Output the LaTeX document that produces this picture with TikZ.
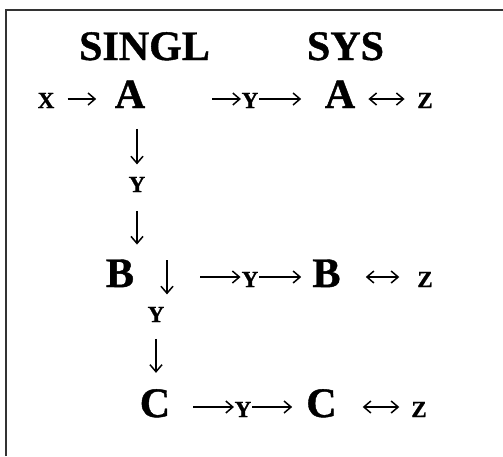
\documentclass[tikz,border=0pt]{standalone}
\usepackage{fontspec}
\setmainfont{Liberation Serif}[BoldFeatures = {FakeBold = 1}]
\usetikzlibrary{arrows.meta}

\tikzset{
	big/.style = {font = \fontsize{42}{42}\selectfont\bfseries, inner sep = 0, anchor = base},
	small/.style = {font = \fontsize{23}{23}\selectfont\bfseries, inner sep = 0, anchor = base},
	gap/.style 2 args = {shorten < = #1pt, shorten > = #2pt},
}

\begin{document}
\begin{tikzpicture}[x = 1pt, y = -1pt, > = {Straight Barb[length = 7pt, width = 12pt]}, line width = 1.5pt]

	\useasboundingbox (0, 0) rectangle (503, 456);

	% Frame (open to the right and below)
	
	\draw [line width = 2pt, black!80] (5.5, 456) -- (5.5, 9.5) -- (503, 9.5);
	
	% Headings
	
	\node [big] (singl) at (144.5, 60) {SINGL};
	\node [big] (sys) at (345.5, 60) {SYS};
	
	% Row A
	
	\coordinate (axisA) at (212, 99);
	\node [small] (in) at (46, 108) {X};
	\node [big] (a1) at (130, 108) {A};
	\node [small] (ya) at (250, 108) {Y};
	\node [big] (a2) at (340, 108) {A};
	\node [small] (za) at (425, 108) {Z};
	\draw [->, gap = {12.5}{17.9}] (axisA -| in.east) -- (axisA -| a1.west);
	\draw [->, gap = {0}{0}] (axisA) -- (axisA -| ya.west);
	\draw [->, gap = {0}{22.9}] (axisA -| ya.east) -- (axisA -| a2.west);
	\draw [<->, gap = {12.5}{12}] (axisA -| a2.east) -- (axisA -| za.west);
	
	% Row B
	
	\coordinate (axisB) at (200, 277);
	\node [big] (b1) at (120, 287) {B};
	\node [small] (yb) at (250, 287) {Y};
	\node [big] (b2) at (326.5, 287) {B};
	\node [small] (zb) at (425, 287) {Z};
	\draw [->, gap = {0}{0.4}] (axisB) -- (axisB -| yb.west);
	\draw [->, gap = {0.4}{10.5}] (axisB -| yb.east) -- (axisB -| b2.west);
	\draw [<->, gap = {24.5}{17.3}] (axisB -| b2.east) -- (axisB -| zb.west);
	
	% A down to B
	
	\node [small] (yv1) at (137, 192) {Y};
	\draw [->, gap = {20}{11.8}] (yv1.north |- a1.south) -- (yv1.north);
	\draw [->, gap = {18}{14.2}] (yv1.south) -- (yv1.south |- b1.north);
	
	% Row C
	
	\coordinate (axisC) at (193, 407);
	\node [big] (c1) at (155, 417) {C};
	\node [small] (yc) at (243, 417) {Y};
	\node [big] (c2) at (321.5, 417) {C};
	\node [small] (zc) at (419, 417) {Z};
	\draw [->, gap = {0}{0}] (axisC) -- (axisC -| yc.west);
	\draw [->, gap = {0.4}{13.4}] (axisC -| yc.east) -- (axisC -| c2.west);
	\draw [<->, gap = {25.3}{11.3}] (axisC -| c2.east) -- (axisC -| zc.west);
	
	% B down to C
	
	\coordinate (drop) at (167, 260);
	\node [small] (yv2) at (156, 322) {Y};
	\draw [->, gap = {0}{11.8}] (drop) -- (drop |- yv2.north);
	\draw [->, gap = {16}{15.6}] (yv2.south) -- (yv2.south |- c1.north);

\end{tikzpicture}
\end{document}
